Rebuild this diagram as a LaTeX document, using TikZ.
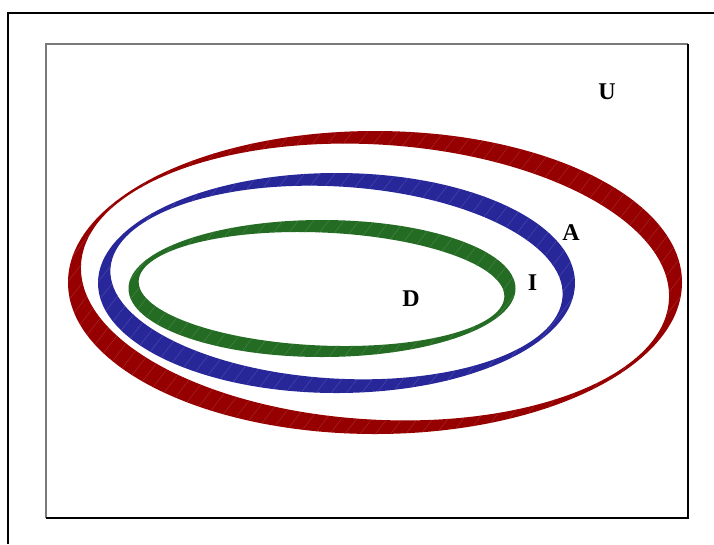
\documentclass[tikz,border=0pt]{standalone}
\usepackage{fontspec}
\setmainfont{Liberation Serif}
\usetikzlibrary{patterns.meta}
\definecolor{vnInk}{HTML}{000000}
\definecolor{vnFrame}{HTML}{7A7A7A}
\definecolor{vnRed}{HTML}{960000}
\definecolor{vnBlue}{HTML}{27279A}
\definecolor{vnGreen}{HTML}{246C24}
\tikzset{
  vn ring/.style={
    even odd rule,
    fill=#1,
    postaction={pattern={Lines[angle=52,distance=9pt,line width=.3pt]}, pattern color=#1!82!white}
  },
  vn frame/.style={draw=vnInk, line width=1.5pt},
  vn box/.style={draw=vnFrame, line width=.9pt},
  vn label/.style={font=\bfseries\fontsize{18}{18}\selectfont, text=vnInk, inner sep=0pt}
}
\begin{document}
\begin{tikzpicture}[x=.75pt,y=-.75pt]
  \useasboundingbox (0,0) rectangle (714,544);
  % outer frame and universe box
  \draw[vn frame] (714,13) -- (8,13) -- (8,544);
  \draw[vn box] (46,518) -- (46,44) -- (688,44);
  \draw[vn box, draw=vnInk] (688,44) -- (688,518) -- (46,518);

  % rings: outer ellipse with a slightly turned hole
  \path[vn ring=vnRed] (375,282.5) ellipse [x radius=307, y radius=151.5]
    (375,282) ellipse [x radius=294.5, y radius=137.5, rotate=-3.5];
  \path[vn ring=vnBlue] (336.5,283) ellipse [x radius=238.5, y radius=110]
    (336.5,282.5) ellipse [x radius=226.5, y radius=96, rotate=-3.5];
  \path[vn ring=vnGreen] (322,288.5) ellipse [x radius=193.5, y radius=68.5]
    (321.5,289) ellipse [x radius=183, y radius=56.5, rotate=-2.5];

  \node[vn label] (U) at (607,91.5) {U};
  \node[vn label] (A) at (571,233) {A};
  \node[vn label] (I) at (532.5,283) {I};
  \node[vn label] (D) at (411,298.5) {D};
\end{tikzpicture}
\end{document}
